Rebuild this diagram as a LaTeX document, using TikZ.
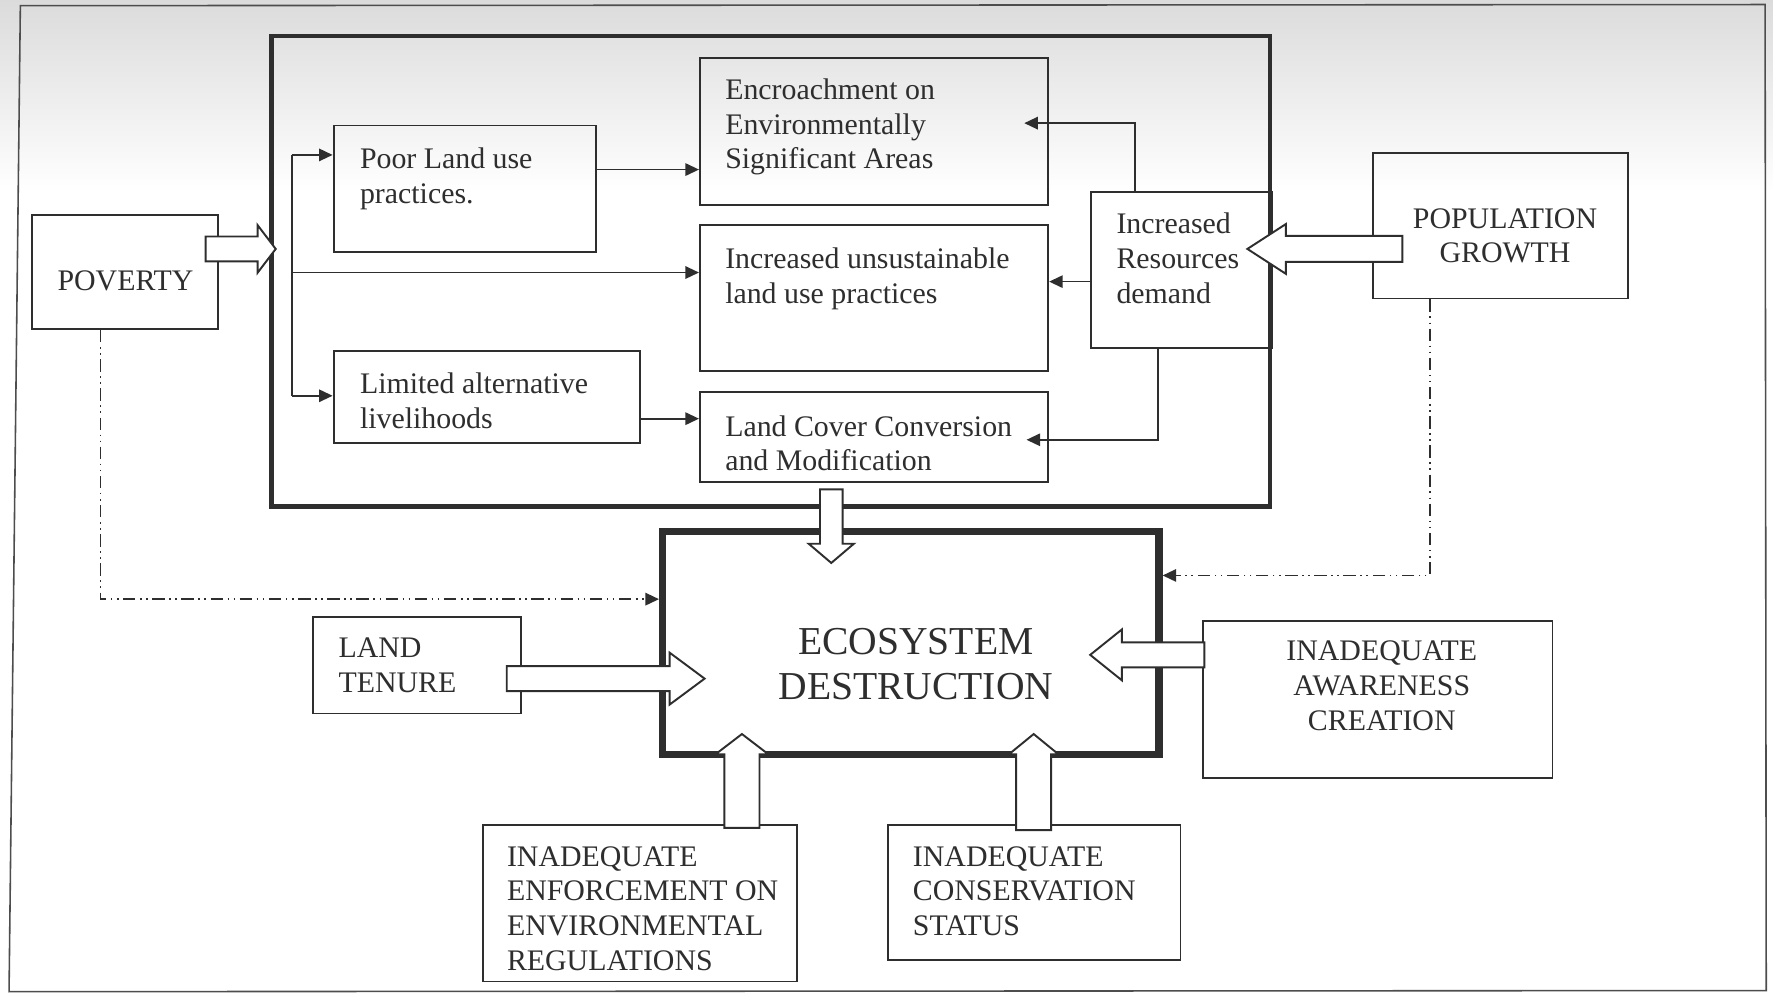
\documentclass[tikz,border=0pt]{standalone}
\usepackage{fontspec}
\setmainfont{Liberation Serif}
\usetikzlibrary{calc,fit,arrows.meta}
\definecolor{ink}{HTML}{2E2E2E}
\tikzset{
  box/.style={draw=ink, line width=0.85pt, inner sep=0pt, fit={#1}},
  frame/.style={draw=ink, line width=2pt, inner sep=0pt, fit={#1}},
  ecoframe/.style={draw=ink, line width=3.2pt, inner sep=0pt, fit={#1}},
  txt/.style={inner sep=0pt, text=ink, font=\fontsize{13.2}{15.4}\selectfont, align=left, anchor=north west},
  ctxt/.style={inner sep=0pt, text=ink, font=\fontsize{13.2}{15.4}\selectfont, align=center},
  bigtxt/.style={inner sep=0pt, text=ink, font=\fontsize{17.5}{20}\selectfont, align=center},
  ln/.style={draw=ink, line width=0.75pt},
  conn/.style={draw=ink, line width=0.75pt, -{Triangle[length=6pt,width=5.5pt]}},
  dd/.style={draw=ink, line width=0.75pt, dash pattern=on 5.5pt off 2pt on 0.7pt off 2pt on 0.7pt off 2pt, -{Triangle[length=6pt,width=5.5pt]}},
  blkst/.style={draw=ink, line width=0.85pt, fill=white, line join=miter},
}
% #1 tail coordinate, #2 angle, #3 length, #4 shaft half width, #5 head half width, #6 head length
\newcommand\blockarrow[6]{%
  \begin{scope}[shift={#1}, rotate=#2]
    \draw[blkst] (0,-#4) -- ({#3-#6},-#4) -- ({#3-#6},-#5) -- (#3,0) -- ({#3-#6},#5) -- ({#3-#6},#4) -- (0,#4) -- cycle;
  \end{scope}}
\begin{document}
\begin{tikzpicture}[x=0.5pt,y=-0.5pt]
\useasboundingbox (0,0) rectangle (1568,880);
\fill[white] (0,0) rectangle (1568,880);
\shade[top color=gray!28, bottom color=white] (0,0) rectangle (1568,170);
% outer frame
\draw[ink!85, line width=0.7pt] (18,5) -- (1561,4) -- (1562,876) -- (8,877) -- cycle;

% frames
\node[frame={(240,32) (1123,448)}] (inner) {};
\node[ecoframe={(586,470) (1025,667)}] (eco) {};

% boxes
\node[box={(28,190) (193,291)}] (pov) {};
\node[box={(295,111) (527,223)}] (poor) {};
\node[box={(295,310) (566,392)}] (lim) {};
\node[box={(619,51) (927,181)}] (encr) {};
\node[box={(619,199) (927,328)}] (unsus) {};
\node[box={(619,347) (927,426)}] (landcov) {};
\node[box={(965,170) (1125,308)}] (res) {};
\node[box={(1214,135) (1440,264)}] (pop) {};
\node[box={(277,546) (461,631)}] (tenure) {};
\node[box={(1064,549) (1373,688)}] (aware) {};
\node[box={(427,730) (705,868)}] (enf) {};
\node[box={(785,730) (1044,849)}] (cons) {};

% poverty bus
\coordinate (b1) at (258,137);
\coordinate (b2) at (258,350);
\coordinate (b3) at (258,241);
\draw[ln] (b1) -- (b2);
\draw[conn] (b1) -- (b1 -| poor.west);
\draw[conn] (b2) -- (b2 -| lim.west);
\draw[conn] (b3) -- (b3 -| unsus.west);

\draw[conn] ($(poor.north east)!0.35!(poor.south east)$) coordinate (t1) -- (t1 -| encr.west);
\draw[conn] ($(lim.north east)!0.73!(lim.south east)$) coordinate (t2) -- (t2 -| landcov.west);
\draw[conn] ($(res.north west)!0.244!(res.north east)$) |- ($(encr.north east)!0.446!(encr.south east)+(-22,0)$);
\draw[conn] ($(res.north west)!0.572!(res.south west)$) coordinate (t3) -- (t3 -| unsus.east);
\draw[conn] ($(res.south west)!0.369!(res.south east)$) |- ($(landcov.north east)!0.53!(landcov.south east)+(-20,0)$);

% dash-dot connectors
\draw[dd] ($(pov.south west)!0.37!(pov.south east)$) |- ($(eco.north west)!0.31!(eco.south west)$);
\draw[dd] ($(pop.south west)!0.226!(pop.south east)$) |- ($(eco.north east)!0.207!(eco.south east)$);

% block arrows
\blockarrow{($(pov.north east)+(-12,31)$)}{0}{62}{11}{21}{16}
\blockarrow{($(pop.north west)+(27,86)$)}{180}{137}{11.5}{22}{34}
\blockarrow{($(landcov.south west)+(117,6)$)}{-90}{65}{10}{20}{17}
\blockarrow{($(tenure.north west)+(172,55)$)}{0}{175}{11}{23}{31}
\blockarrow{($(aware.north west)+(2,31)$)}{180}{101}{11}{22.5}{28}
\blockarrow{($(enf.north west)+(230,3)$)}{90}{83}{15.5}{23.5}{18}
\blockarrow{($(cons.north west)+(130,5)$)}{90}{85}{15.5}{22}{18}

% texts
\node[ctxt] (povt) at (111,248) {POVERTY};
\node[txt] (poort) at (318,130) {Poor Land use\\practices.};
\node[txt] (limt) at (318,329) {Limited alternative\\livelihoods};
\node[txt] (encrt) at (641,69) {Encroachment on\\Environmentally\\Significant Areas};
\node[txt] (unsust) at (641,219) {Increased unsustainable\\land use practices};
\node[txt] (landcovt) at (641,367) {Land Cover Conversion\\and Modification};
\node[txt] (rest) at (987,188) {Increased\\Resources\\demand};
\node[ctxt] (popt) at (1331,208.5) {POPULATION\\GROWTH};
\node[bigtxt] (ecot) at (810,587) {ECOSYSTEM\\DESTRUCTION};
\node[txt] (tenuret) at (299,564) {LAND\\TENURE};
\node[ctxt] (awaret) at (1222,606.5) {INADEQUATE\\AWARENESS\\CREATION};
\node[txt] (enft) at (448,748) {INADEQUATE\\ENFORCEMENT ON\\ENVIRONMENTAL\\REGULATIONS};
\node[txt] (const) at (807,748) {INADEQUATE\\CONSERVATION\\STATUS};
\end{tikzpicture}
\end{document}
